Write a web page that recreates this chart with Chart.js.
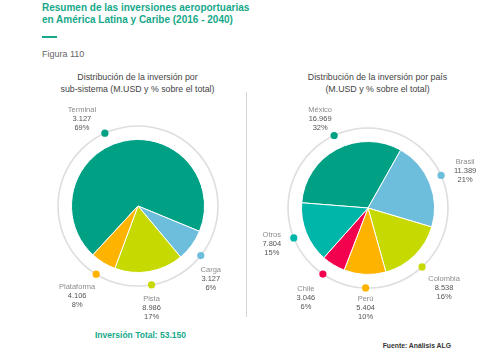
<!DOCTYPE html>
<html>
<head>
<meta charset="utf-8">
<script src="https://cdn.jsdelivr.net/npm/chart.js@4"></script>
<style>
  html, body { margin:0; padding:0; background:#fff; }
  body { width:488px; height:355px; position:relative; overflow:hidden; font-family:"Liberation Sans", Arial, Helvetica, sans-serif; }
  .t { position:absolute; white-space:nowrap; }
  canvas { position:absolute; top:0; }
</style>
</head>
<body>
<script>
// ---- data ----
const subCategories = ['Terminal', 'Carga', 'Pista', 'Plataforma'];
const subValues = [36.9, 4.1, 8.9, 3.3];            // slice sizes as drawn (M.USD)
const subValueLabels = ['3.127', '3.127', '8.986', '4.106'];
const subPctLabels = ['69%', '6%', '17%', '8%'];

const countryCategories = ['México', 'Brasil', 'Colombia', 'Perú', 'Chile', 'Otros'];
const countryValues = [16.969, 11.389, 8.538, 5.404, 3.046, 7.804];
const countryPctLabels = ['32%', '21%', '16%', '10%', '6%', '15%'];

const totalLabel = 'Inversión Total: 53.150';
</script>

<div class="t" style="left:42px;top:1.5px;font-size:10px;line-height:12.5px;font-weight:bold;color:#17a88a;">Resumen de las inversiones aeroportuarias<br>en América Latina y Caribe (2016 - 2040)</div>
<div class="t" style="left:42px;top:35.5px;width:15px;height:2.5px;background:#17a88a;"></div>
<div class="t" style="left:42px;top:48.5px;font-size:9px;line-height:11px;color:#666;">Figura 110</div>
<div class="t" style="left:37.5px;width:200px;top:71px;font-size:8.8px;line-height:12px;color:#444;text-align:center;">Distribución de la inversión por<br>sub-sistema (M.USD y % sobre el total)</div>
<div class="t" style="left:277.5px;width:200px;top:70.7px;font-size:8.8px;line-height:12.5px;color:#444;text-align:center;">Distribución de la inversión por país<br>(M.USD y % sobre el total)</div>
<div class="t" style="left:246px;top:92px;width:1px;height:225px;background:#d4d4d4;"></div>
<div class="t" id="total" style="left:40.5px;width:200px;top:330px;font-size:8.5px;line-height:10px;font-weight:bold;color:#17a88a;text-align:center;"></div>
<div class="t" style="left:382.7px;top:341.7px;font-size:6.8px;line-height:8px;font-weight:bold;color:#333;">Fuente: Análisis ALG</div>

<canvas id="c1" width="244" height="355" style="left:0px;"></canvas>
<canvas id="c2" width="244" height="355" style="left:244px;"></canvas>

<script>
document.getElementById('total').textContent = totalLabel;

const FONT = '"Liberation Sans", Arial, Helvetica, sans-serif';

function ringPlugin(cfg) {
  return {
    id: 'ring',
    beforeDatasetsDraw(chart) {
      const meta = chart.getDatasetMeta(0);
      const a = meta.data[0];
      const ctx = chart.ctx;
      ctx.save();
      ctx.beginPath();
      ctx.arc(a.x, a.y, cfg.ringR, 0, Math.PI * 2);
      ctx.strokeStyle = '#dedede';
      ctx.lineWidth = 1.6;
      ctx.stroke();
      ctx.restore();
    },
    afterDatasetsDraw(chart) {
      const meta = chart.getDatasetMeta(0);
      const ds = chart.data.datasets[0];
      const ctx = chart.ctx;
      ctx.save();
      meta.data.forEach((arc, i) => {
        const mid = (arc.startAngle + arc.endAngle) / 2 + (cfg.angleShift[i] || 0) * Math.PI / 180;
        const dx = arc.x + Math.cos(mid) * cfg.ringR;
        const dy = arc.y + Math.sin(mid) * cfg.ringR;
        // dot
        ctx.beginPath();
        ctx.arc(dx, dy, 3.6, 0, Math.PI * 2);
        ctx.fillStyle = ds.backgroundColor[i];
        ctx.fill();
        // label
        const off = cfg.offsets[i];
        const cx = dx + off[0], cy = dy + off[1];
        ctx.textAlign = 'center';
        ctx.textBaseline = 'middle';
        ctx.font = '7.5px ' + FONT;
        ctx.fillStyle = '#8c8c8c';
        ctx.fillText(cfg.names[i], cx, cy - 9);
        ctx.fillStyle = '#555';
        ctx.fillText(cfg.values[i], cx, cy);
        ctx.fillText(cfg.pcts[i], cx, cy + 9);
      });
      ctx.restore();
    }
  };
}

function makePie(id, labels, values, colors, rotation, padding, cfg) {
  return new Chart(document.getElementById(id), {
    type: 'pie',
    data: {
      labels: labels,
      datasets: [{
        data: values,
        backgroundColor: colors,
        borderColor: '#ffffff',
        borderWidth: 1
      }]
    },
    options: {
      responsive: false,
      animation: false,
      events: [],
      rotation: rotation,
      layout: { padding: padding },
      plugins: { legend: { display: false }, tooltip: { enabled: false } }
    },
    plugins: [ringPlugin(cfg)]
  });
}

makePie('c1', subCategories, subValues,
  ['#00a085', '#6dbddc', '#c6d900', '#fdb300'],
  222.7,
  { left: 71, right: 39, top: 139, bottom: 82 },
  {
    ringR: 80,
    angleShift: [-12, 2, 0, 0],
    names: subCategories,
    values: subValueLabels,
    pcts: subPctLabels,
    offsets: [[-23, -14], [10, 23], [0, 23], [-19, 22]]
  });

makePie('c2', countryCategories, countryValues,
  ['#00a085', '#6dbddc', '#c6d900', '#fdb300', '#f3004e', '#00b6a8'],
  274.5,
  { left: 57, right: 53, top: 141, bottom: 80 },
  {
    ringR: 80,
    angleShift: [3, -2, 2, -1, 3, 0],
    names: countryCategories,
    values: countryValues.map(v => v.toFixed(3)),
    pcts: countryPctLabels,
    offsets: [[-14, -17], [24, -5], [22, 21], [0, 20], [-17, 24], [-22, 6]]
  });
</script>
</body>
</html>
